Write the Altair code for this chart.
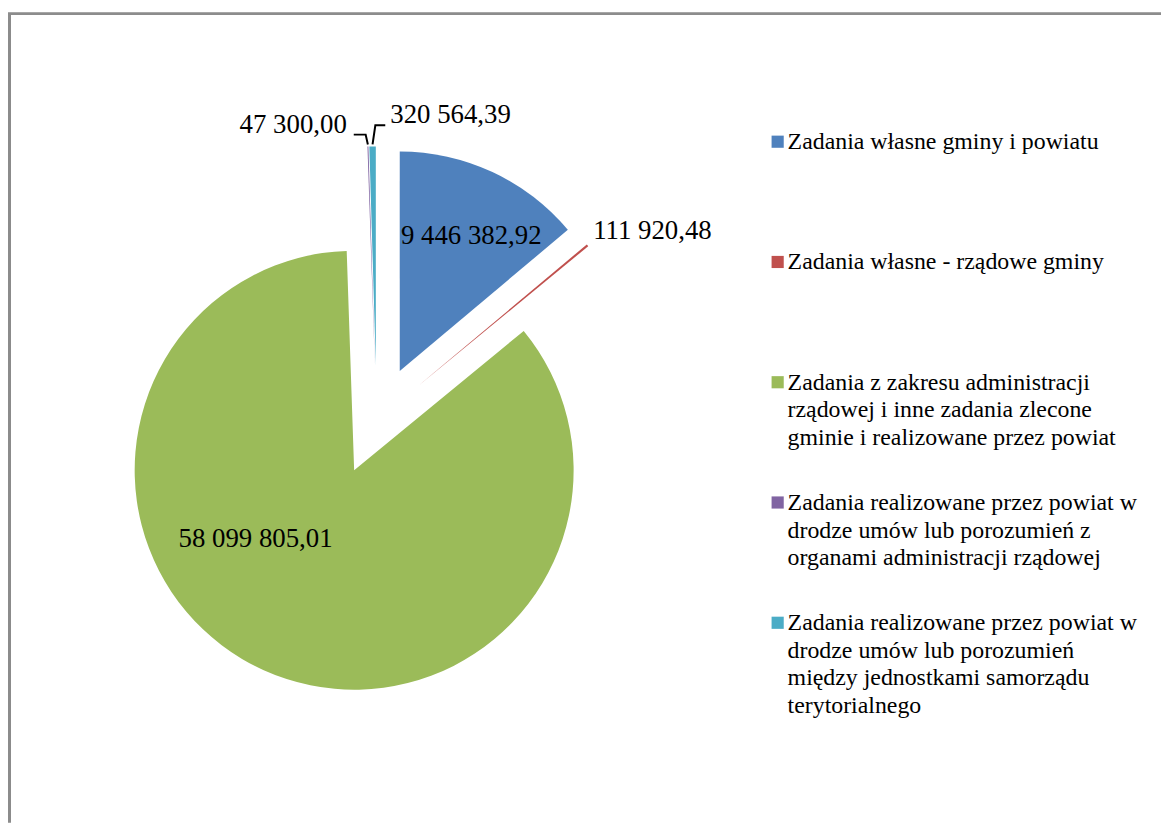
import math
import altair as alt
import pandas as pd

# ---------------- data ----------------
categories = [
    "Zadania własne gminy i powiatu",
    "Zadania własne - rządowe gminy",
    "Zadania z zakresu administracji rządowej i inne zadania zlecone gminie i realizowane przez powiat",
    "Zadania realizowane przez powiat w drodze umów lub porozumień z organami administracji rządowej",
    "Zadania realizowane przez powiat w drodze umów lub porozumień między jednostkami samorządu terytorialnego",
]
legend_lines = [
    ["Zadania własne gminy i powiatu"],
    ["Zadania własne - rządowe gminy"],
    ["Zadania z zakresu administracji", "rządowej i inne zadania zlecone",
     "gminie i realizowane przez powiat"],
    ["Zadania realizowane przez powiat w", "drodze umów lub porozumień z",
     "organami administracji rządowej"],
    ["Zadania realizowane przez powiat w", "drodze umów lub porozumień",
     "między jednostkami samorządu", "terytorialnego"],
]
values = [9446382.92, 111920.48, 58099805.01, 47300.00, 320564.39]
colors = ["#4F81BD", "#C0504D", "#9BBB59", "#8064A2", "#4BACC6"]

# ---------------- layout / style ----------------
W, H = 1161, 817
CX, CY = 371.2, 412.5      # pie centre (before explosion)
R, D = 221, 55             # radius, explosion distance
FONT = "Liberation Serif"
LABEL_SIZE = 27
LEGEND_SIZE = 24
# label placement per slice: (distance from slice vertex, angle shift in degrees, align)
label_place = [(154, 2.9, "center"), (235, -1.9, "left"), (121, 30.8, "center"),
               (244, -4.84, "right"), (252.6, 4.14, "left")]
# leader-line elbows relative to the label anchor (only for the two tiny slices)
leader_elbows = {3: [(19, 9.5), (7, 9.5)], 4: [(-15, 10), (-5, 10)]}
LEG_X, LEG_Y0, LEG_STEP, LEG_LH = 775, 120.3, 121.1, 27.8


def pl_fmt(v):
    return f"{v:,.2f}".replace(",", " ").replace(".", ",")


total = sum(values)
slices, labels, leaders = [], [], []
cum = 0.0
for i, (c, v) in enumerate(zip(categories, values)):
    a0 = 2 * math.pi * cum / total
    cum += v
    a1 = 2 * math.pi * cum / total
    mid = (a0 + a1) / 2
    vx, vy = CX + D * math.sin(mid), CY - D * math.cos(mid)
    slices.append(dict(category=c, a0=a0, a1=a1, cx=vx, cy=vy))
    lr, da, al = label_place[i]
    la = mid + math.radians(da)
    lx, ly = vx + lr * math.sin(la), vy - lr * math.cos(la)
    labels.append(dict(text=pl_fmt(v), x=lx, y=ly, align=al))
    if i in leader_elbows:
        tx, ty = vx + (R + 2) * math.sin(mid), vy - (R + 2) * math.cos(mid)
        pts = [(tx, ty)] + [(lx + dx, ly + dy) for dx, dy in leader_elbows[i]]
        for k, (px_, py_) in enumerate(pts):
            leaders.append(dict(line=i, k=k, x=px_, y=py_))

slice_df = pd.DataFrame(slices)
label_df = pd.DataFrame(labels)
leader_df = pd.DataFrame(leaders)
legend_df = pd.DataFrame([
    dict(category=c, text="\n".join(legend_lines[i]),
         sy=LEG_Y0 + 19 + i * LEG_STEP - 7.5, ty=LEG_Y0 + i * LEG_STEP)
    for i, c in enumerate(categories)
])

color_scale = alt.Scale(domain=categories, range=colors)
px = lambda f: alt.X(f"{f}:Q", scale=None)
py = lambda f: alt.Y(f"{f}:Q", scale=None)

frame_left = alt.Chart(slice_df).mark_rule(color="#8c8c8c", strokeWidth=3).encode(
    x=alt.value(1.5), y=alt.value(3), y2=alt.value(H))
frame_top = alt.Chart(slice_df).mark_rule(color="#8c8c8c", strokeWidth=2).encode(
    x=alt.value(0), x2=alt.value(W), y=alt.value(3))

arcs = alt.Chart(slice_df).mark_arc(radius=R, strokeWidth=0).encode(
    theta=alt.Theta("a0:Q", scale=None, stack=False),
    theta2="a1:Q",
    x=px("cx"), y=py("cy"),
    color=alt.Color("category:N", scale=color_scale, legend=None),
)

label_layers = []
for al in ["left", "center", "right"]:
    label_layers.append(
        alt.Chart(label_df).transform_filter(alt.datum.align == al)
        .mark_text(font=FONT, fontSize=LABEL_SIZE, color="black", align=al, baseline="middle")
        .encode(x=px("x"), y=py("y"), text="text:N")
    )

leader_lines = alt.Chart(leader_df).mark_line(color="black", strokeWidth=2, strokeJoin="miter").encode(
    x=px("x"), y=py("y"), detail="line:N", order="k:Q")

legend_sq = alt.Chart(legend_df).mark_square(size=150, opacity=1).encode(
    x=alt.value(LEG_X), y=py("sy"),
    color=alt.Color("category:N", scale=color_scale, legend=None))
legend_txt = alt.Chart(legend_df).mark_text(
    font=FONT, fontSize=LEGEND_SIZE, color="black", align="left", baseline="top",
    lineBreak="\n", lineHeight=LEG_LH).encode(
    x=alt.value(LEG_X + 10), y=py("ty"), text="text:N")

chart = alt.layer(frame_left, frame_top, arcs, *label_layers, leader_lines, legend_sq, legend_txt).properties(
    width=W, height=H, padding=0, autosize=alt.AutoSizeParams(type="none"),
    background="white",
).configure_view(stroke=None)

chart.save("out.html", embed_options={"renderer": "svg", "actions": False})
